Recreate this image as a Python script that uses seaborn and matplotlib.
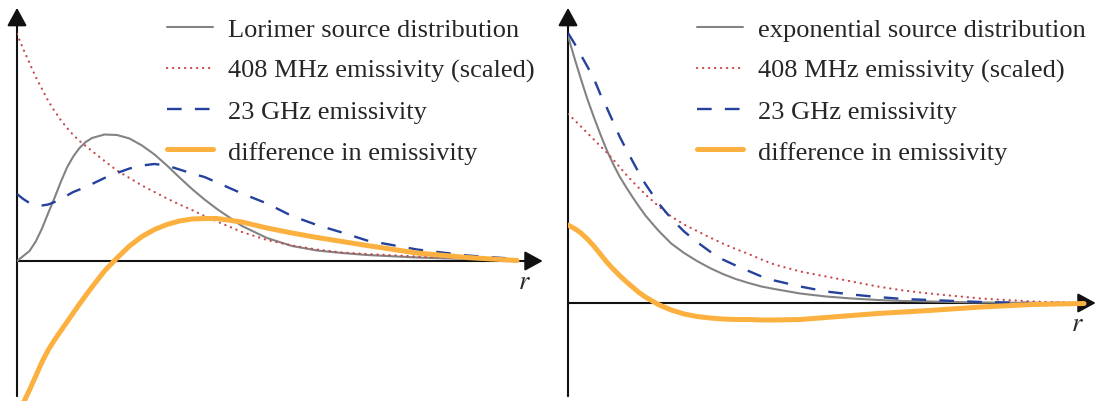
import matplotlib
matplotlib.use('Agg')
import matplotlib.pyplot as plt
import pandas as pd
import seaborn as sns

sns.set_theme(style='white')
plt.rcParams['font.family'] = ['Liberation Serif', 'DejaVu Serif']
plt.rcParams['mathtext.fontset'] = 'stix'

# radius (arbitrary units), same grid for both panels
r = [0, 0.125, 0.25, 0.375, 0.5, 0.625, 0.75, 0.875, 1, 1.125, 1.25, 1.375, 1.5, 1.75, 2, 2.25,
     2.5, 2.75, 3, 3.25, 3.5, 3.75, 4, 4.5, 5, 5.5, 6, 6.5, 7, 8, 9, 10]

# left panel - Lorimer source distribution
lor_source = [0, 0.1, 0.2, 0.39, 0.65, 0.96, 1.26, 1.58, 1.87, 2.09, 2.26, 2.38, 2.46, 2.53, 2.52, 2.45,
              2.31, 2.13, 1.91, 1.67, 1.44, 1.23, 1.04, 0.7, 0.46, 0.3, 0.21, 0.16, 0.12, 0.07, 0.04, 0.02]
lor_408 = [4.54, 4.24, 3.96, 3.68, 3.44, 3.2, 3.0, 2.82, 2.66, 2.52, 2.4, 2.3, 2.2, 2.0, 1.81, 1.66,
           1.51, 1.38, 1.25, 1.13, 1.02, 0.9, 0.79, 0.58, 0.42, 0.31, 0.23, 0.17, 0.14, 0.09, 0.05, 0.02]
lor_23 = [1.34, 1.24, 1.16, 1.12, 1.11, 1.13, 1.18, 1.24, 1.31, 1.38, 1.43, 1.48, 1.54, 1.66, 1.76, 1.85,
          1.91, 1.94, 1.91, 1.83, 1.75, 1.68, 1.57, 1.35, 1.15, 0.9, 0.72, 0.57, 0.41, 0.23, 0.11, 0.04]
lor_diff = [-3.12, -2.84, -2.58, -2.3, -2.02, -1.78, -1.58, -1.4, -1.22, -1.04, -0.86, -0.69, -0.52, -0.2, 0.06, 0.3,
            0.49, 0.63, 0.73, 0.8, 0.84, 0.85, 0.85, 0.78, 0.66, 0.56, 0.47, 0.39, 0.31, 0.16, 0.07, 0.01]

# right panel - exponential source distribution
exp_source = [5.34, 4.9, 4.48, 4.08, 3.72, 3.38, 3.06, 2.78, 2.53, 2.32, 2.12, 1.93, 1.75, 1.45, 1.19, 1.0,
              0.84, 0.7, 0.58, 0.48, 0.4, 0.33, 0.28, 0.19, 0.13, 0.09, 0.06, 0.04, 0.03, 0.01, 0.0, 0.0]
exp_408 = [3.78, 3.66, 3.53, 3.4, 3.27, 3.14, 3.01, 2.87, 2.72, 2.57, 2.43, 2.3, 2.17, 1.94, 1.73, 1.57,
           1.44, 1.31, 1.19, 1.08, 0.98, 0.87, 0.77, 0.63, 0.53, 0.43, 0.33, 0.25, 0.19, 0.09, 0.03, 0.0]
exp_23 = [5.4, 5.19, 4.96, 4.73, 4.49, 4.18, 3.91, 3.62, 3.33, 3.08, 2.84, 2.6, 2.38, 2.0, 1.69, 1.43,
          1.22, 1.03, 0.87, 0.75, 0.64, 0.53, 0.45, 0.33, 0.23, 0.17, 0.12, 0.08, 0.06, 0.02, 0.0, 0.0]
exp_diff = [1.56, 1.49, 1.4, 1.28, 1.14, 0.98, 0.82, 0.68, 0.55, 0.43, 0.32, 0.21, 0.12, -0.03, -0.14, -0.22,
            -0.27, -0.3, -0.32, -0.33, -0.33, -0.34, -0.34, -0.33, -0.29, -0.25, -0.21, -0.18, -0.15, -0.08, -0.03, -0.01]

labels_left = ['Lorimer source distribution', '408 MHz emissivity (scaled)', '23 GHz emissivity', 'difference in emissivity']
labels_right = ['exponential source distribution', '408 MHz emissivity (scaled)', '23 GHz emissivity', 'difference in emissivity']

# colour, width, linestyle for source / 408 / 23 / diff
styles = [('#838383', 1.5, '-'),
          ('#c9484a', 1.6, (0, (0.1, 2.6))),
          ('#24419c', 1.7, (0, (6.2, 5.6))),
          ('#fbb040', 3.6, '-')]

fig = plt.figure(figsize=(11, 4.02), dpi=100)
axL = fig.add_axes([17 / 1100, 0, 530 / 1100, 1])
axR = fig.add_axes([568 / 1100, 0, 532 / 1100, 1])

panels = [(axL, [lor_source, lor_408, lor_23, lor_diff], labels_left, (0, 10.6), (-2.8, 5.24), 167),
          (axR, [exp_source, exp_408, exp_23, exp_diff], labels_right, (0, 10.31), (-1.96, 6.08), 697)]

for ax, series, labels, xl, yl, legx in panels:
    ax.set_axis_off()
    ax.set_xlim(*xl)
    ax.set_ylim(*yl)

    # axes drawn as arrows
    arr = dict(arrowstyle='-|>,head_length=0.55,head_width=0.3', color='#111111', lw=1.5,
               mutation_scale=20, shrinkA=0, shrinkB=0)
    ax.annotate('', xy=(0.992, 0), xytext=(0, 0), xycoords=ax.get_yaxis_transform(),
                textcoords=ax.get_yaxis_transform(), arrowprops=arr, zorder=1)
    ax.annotate('', xy=(0, 0.978), xytext=(0, 0.012), xycoords=ax.get_xaxis_transform(),
                textcoords=ax.get_xaxis_transform(), arrowprops=arr, zorder=1)
    ax.annotate('$r$', xy=(0.992, 0), xycoords=ax.get_yaxis_transform(), xytext=(-13, -15),
                textcoords='offset points', fontsize=19, ha='center', va='center')

    for vals, lab, (col, lw, ls) in zip(series, labels, styles):
        df = pd.DataFrame({'r': r, 'y': vals})
        sns.lineplot(data=df, x='r', y='y', ax=ax, color=col, lw=lw, linestyle=ls,
                     dash_capstyle='round' if lab.startswith('408') else 'butt',
                     label=lab, errorbar=None, zorder=3)

    ax.legend(loc='upper left', bbox_to_anchor=(legx / 1100, 0.953), bbox_transform=fig.transFigure,
              frameon=False, fontsize=19, handlelength=1.74, handletextpad=0.57,
              labelspacing=0.65, borderpad=0, borderaxespad=0)

fig.savefig('out.png', dpi=100)
